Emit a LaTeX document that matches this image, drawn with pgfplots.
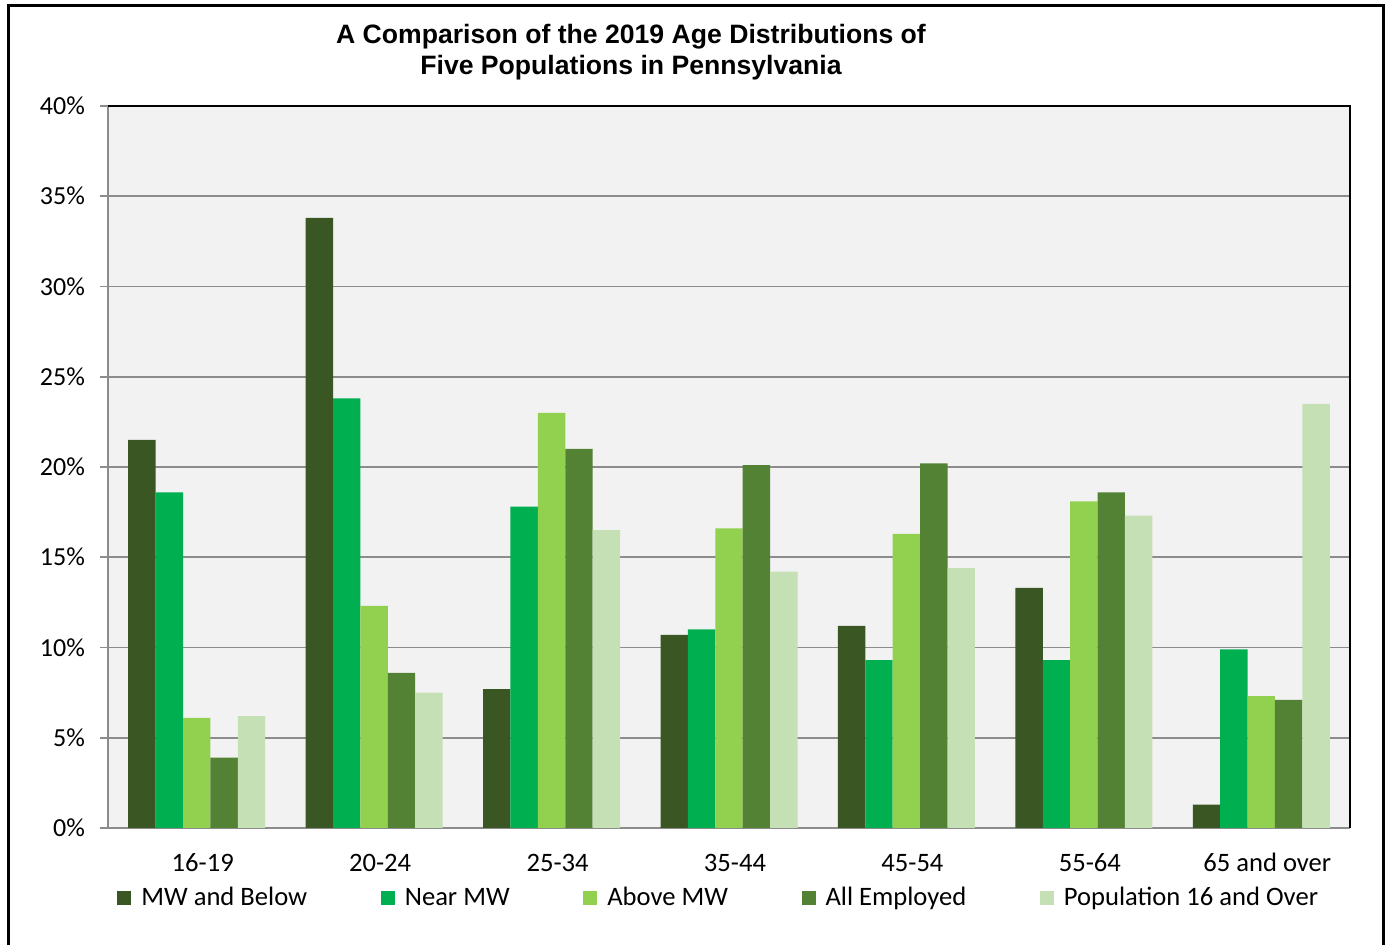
\documentclass[border=0pt]{standalone}
\usepackage{fontspec}
\setmainfont{Carlito}
\newfontfamily\arialbf{Liberation Sans}[BoldFont={Liberation Sans Bold}]
\usepackage{pgfplots}
\pgfplotsset{compat=1.18}
\usepackage{pgfplotstable}
\definecolor{cMW}{HTML}{3A5723}
\definecolor{cNear}{HTML}{00B050}
\definecolor{cAbove}{HTML}{92D050}
\definecolor{cAll}{HTML}{548235}
\definecolor{cPop}{HTML}{C5E0B4}
\definecolor{bgplot}{HTML}{F2F2F2}
\definecolor{gridc}{HTML}{8C8C8C}
\pgfplotstableread{
x MW Near Above All Pop
0 21.5 18.6 6.1 3.9 6.2
1 33.8 23.8 12.3 8.6 7.5
2 7.7 17.8 23.0 21.0 16.5
3 10.7 11.0 16.6 20.1 14.2
4 11.2 9.3 16.3 20.2 14.4
5 13.3 9.3 18.1 18.6 17.3
6 1.3 9.9 7.3 7.1 23.5
}\datatable
\begin{document}
\begin{tikzpicture}
\useasboundingbox (0,0) rectangle (695pt,472.5pt);
\draw[line width=1.5pt] (4pt,-5pt) -- (4pt,469.5pt) -- (691.5pt,469.5pt) -- (691.5pt,-5pt);
\node[align=center,font=\arialbf\bfseries\fontsize{13.3}{15.5}\selectfont] at (315.5pt,446.5pt)
 {A Comparison of the 2019 Age Distributions of\\Five Populations in Pennsylvania};
\begin{axis}[
  at={(54pt,58.5pt)}, anchor=south west,
  scale only axis, width=621pt, height=361pt,
  ybar=0pt, bar width=13.7pt,
  xmin=-0.5, xmax=6.5, ymin=0, ymax=40,
  axis background/.style={fill=bgplot},
  axis lines=left,
  axis line style={gridc, line width=0.8pt, -},
  xtick={0,...,6},
  xticklabels={16-19,20-24,25-34,35-44,45-54,55-64,65 and over},
  x tick style={draw=none},
  extra x ticks={-0.5,0.5,...,6.5},
  extra x tick labels={},
  extra x tick style={major tick length=4pt, tick align=outside, tick style={gridc, line width=0.8pt}, grid=none},
  ytick={0,5,...,40},
  yticklabels={0\%,5\%,10\%,15\%,20\%,25\%,30\%,35\%,40\%},
  y tick style={gridc, line width=0.8pt},
  tick align=outside, major tick length=4pt,
  ymajorgrids, grid style={gridc, line width=0.8pt},
  ticklabel style={font=\fontsize{13.3}{15}\selectfont},
  xticklabel style={yshift=-4.5pt, xshift=3pt, text height=9.5pt, text depth=3pt},
  yticklabel style={xshift=-4pt, font=\fontsize{13}{15}\selectfont},
  legend columns=5,
  legend style={draw=none, fill=none, at={(axis description cs:0.0072,-0.097)}, anchor=west,
     inner sep=0pt, font=\fontsize{13.3}{15}\selectfont,
     /tikz/every even column/.append style={column sep=34.8pt}},
  legend cell align=left,
  legend image code/.code={\fill[#1] (0pt,-3.5pt) rectangle (7pt,3.5pt); \path (10pt,0pt);},
  clip=false,
]
\addplot[fill=cMW, draw=none] table[x=x,y=MW]{\datatable};
\addplot[fill=cNear, draw=none] table[x=x,y=Near]{\datatable};
\addplot[fill=cAbove, draw=none] table[x=x,y=Above]{\datatable};
\addplot[fill=cAll, draw=none] table[x=x,y=All]{\datatable};
\addplot[fill=cPop, draw=none] table[x=x,y=Pop]{\datatable};
\legend{MW and Below,Near MW,Above MW,All Employed,Population 16 and Over}
\draw[black, line width=1pt] (rel axis cs:0,1) -- (rel axis cs:1,1) -- (rel axis cs:1,0);
\end{axis}
\end{tikzpicture}
\end{document}
